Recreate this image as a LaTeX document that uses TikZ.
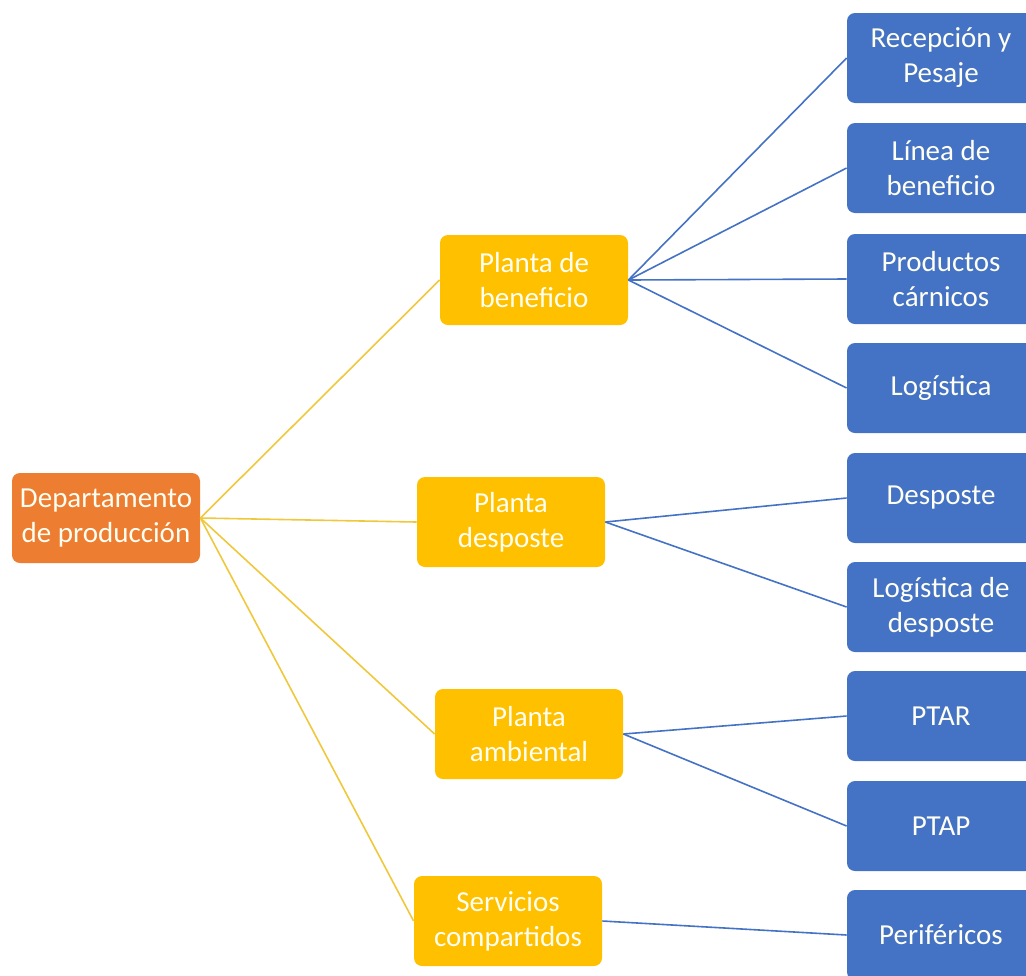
\documentclass[tikz,border=0pt]{standalone}
\usepackage{fontspec}
\setmainfont{Carlito}
\definecolor{orangebox}{RGB}{237,125,49}
\definecolor{yellowbox}{RGB}{255,192,0}
\definecolor{bluebox}{RGB}{68,114,196}
\definecolor{yellowline}{RGB}{240,200,60}
\begin{document}
\begin{tikzpicture}[x=0.5pt, y=-0.5pt,
            box/.style = {rounded corners=4pt, minimum width=94pt, minimum height=45pt, align=center, text=white!95!yellow, font=\fontsize{14.5}{17.5}\selectfont},
            rootbox/.style = {box, fill=orangebox},
            midbox/.style = {box, fill=yellowbox},
            leafbox/.style = {box, fill=bluebox},
            ylink/.style = {draw=yellowline, line width=0.8pt},
            blink/.style = {draw=bluebox, line width=0.8pt}]
            \useasboundingbox (0,0) rectangle (1026,975);
            \node[rootbox] (0) at (106,518) {Departamento\\de producción};
            \node[midbox] (1) at (534,280) {Planta de\\beneficio};
            \node[midbox] (2) at (511,522) {Planta\\desposte};
            \node[midbox] (3) at (529,734) {Planta\\ambiental};
            \node[midbox] (4) at (508,921) {Servicios\\compartidos};
            \node[leafbox] (5) at (941,58) {Recepción y\\Pesaje};
            \node[leafbox] (6) at (941,168) {Línea de\\beneficio};
            \node[leafbox] (7) at (941,279) {Productos\\cárnicos};
            \node[leafbox] (8) at (941,388) {Logística};
            \node[leafbox] (9) at (941,498) {Desposte};
            \node[leafbox] (10) at (941,607) {Logística de\\desposte};
            \node[leafbox] (11) at (941,716) {PTAR};
            \node[leafbox] (12) at (941,826) {PTAP};
            \node[leafbox] (13) at (941,935) {Periféricos};
            \foreach \m in {1,2,3,4}
                \draw[ylink] (0.east) -- (\m.west);
            \foreach \l in {5,6,7,8}
                \draw[blink] (1.east) -- (\l.west);
            \draw[blink] (2.east) -- (9.west);
            \draw[blink] (2.east) -- (10.west);
            \draw[blink] (3.east) -- (11.west);
            \draw[blink] (3.east) -- (12.west);
            \draw[blink] (4.east) -- (13.west);
        \end{tikzpicture}
\end{document}
